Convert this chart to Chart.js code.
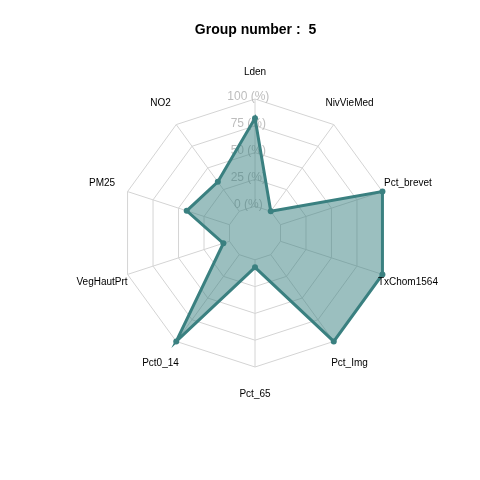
<!DOCTYPE html>
<html>
<head>
<meta charset="utf-8">
<script src="https://cdn.jsdelivr.net/npm/chart.js@4"></script>
<style>
  html, body { margin: 0; padding: 0; background: #ffffff; }
  canvas { display: block; }
</style>
</head>
<body>
<canvas id="c" width="480" height="480"></canvas>
<script>
const titleText = 'Group number :  5';
const categories = ['Lden', 'NivVieMed', 'Pct_brevet', 'TxChom1564', 'Pct_Img', 'Pct_65', 'Pct0_14', 'VegHautPrt', 'PM25', 'NO2'];
const groupValues = [82, 0, 100, 100, 100, 7, 100, 6, 42, 34];
const tickValues = [0, 25, 50, 75, 100];
const tickSuffix = ' (%)';
const axisMin = -25;
const axisMax = 100;

const FONT = "'Liberation Sans', Arial, sans-serif";
const gridColor = '#d4d4d4';

// spokes from the 0 ring outwards, and axis tick labels (drawn under the data)
const spokesPlugin = {
  id: 'spokes',
  beforeDatasetsDraw(chart) {
    const s = chart.scales.r;
    const ctx = chart.ctx;
    const r0 = s.getDistanceFromCenterForValue(tickValues[0]);
    const r1 = s.getDistanceFromCenterForValue(tickValues[tickValues.length - 1]);
    ctx.save();
    ctx.strokeStyle = gridColor;
    ctx.lineWidth = 1;
    for (let i = 0; i < categories.length; i++) {
      const a = s.getPointPosition(i, r0);
      const b = s.getPointPosition(i, r1);
      ctx.beginPath();
      ctx.moveTo(a.x, a.y);
      ctx.lineTo(b.x, b.y);
      ctx.stroke();
    }
    ctx.font = '12px ' + FONT;
    ctx.fillStyle = '#bdbdbd';
    ctx.textAlign = 'center';
    ctx.textBaseline = 'middle';
    const dx = -0.05 * s.drawingArea;
    tickValues.forEach(v => {
      const d = s.getDistanceFromCenterForValue(v);
      ctx.fillText(v + tickSuffix, s.xCenter + dx, s.yCenter - d - 2);
    });
    ctx.restore();
  }
};

const labelPlugin = {
  id: 'centeredPointLabels',
  afterDatasetsDraw(chart) {
    const s = chart.scales.r;
    const ctx = chart.ctx;
    ctx.save();
    ctx.font = '10px ' + FONT;
    ctx.fillStyle = '#000000';
    ctx.textAlign = 'center';
    ctx.textBaseline = 'middle';
    const dist = s.getDistanceFromCenterForValue(axisMax) * 1.2;
    categories.forEach((lab, i) => {
      const p = s.getPointPosition(i, dist);
      ctx.fillText(lab, p.x, p.y);
    });
    ctx.restore();
  }
};

new Chart(document.getElementById('c'), {
  type: 'radar',
  data: {
    labels: categories,
    datasets: [{
      data: groupValues,
      borderColor: 'rgb(58,128,128)',
      backgroundColor: 'rgba(56,128,128,0.5)',
      borderWidth: 3,
      pointRadius: 3,
      pointBackgroundColor: 'rgb(58,128,128)',
      pointBorderColor: 'rgb(58,128,128)',
      pointBorderWidth: 0,
      fill: 'start',
      tension: 0
    }]
  },
  options: {
    responsive: false,
    animation: false,
    layout: { padding: { top: 8, left: 121, right: 90, bottom: 112 } },
    plugins: {
      legend: { display: false },
      tooltip: { enabled: false },
      title: {
        display: true,
        text: titleText,
        color: '#000000',
        font: { family: FONT, size: 14, weight: 'bold' },
        padding: { top: 14, bottom: 60.2 }
      }
    },
    scales: {
      r: {
        min: axisMin,
        max: axisMax,
        startAngle: 0,
        grid: { circular: false, color: gridColor, lineWidth: 1 },
        angleLines: { display: false },
        pointLabels: { display: false },
        ticks: { display: false, stepSize: 25 }
      }
    }
  },
  plugins: [spokesPlugin, labelPlugin]
});
</script>
</body>
</html>
